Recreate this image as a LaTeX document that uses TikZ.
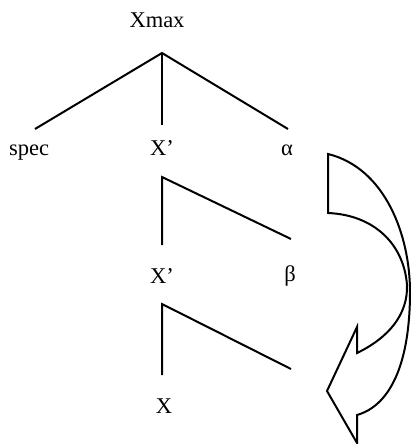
\documentclass[tikz,border=0pt]{standalone}
\usepackage{fontspec}
\setmainfont{Liberation Serif}
\begin{document}
\begin{tikzpicture}[x=1pt,y=-1pt,
  lbl/.style={anchor=base,inner sep=0pt,font=\fontsize{22.5}{26}\selectfont},
  branch/.style={line width=2pt},
  arrowshape/.style={line width=2pt,line join=miter}]
\useasboundingbox (0,0) rectangle (411,444);
% labels
\node[lbl] (xmax) at (157,28) {Xmax};
\node[lbl] (spec) at (29,155) {spec};
\node[lbl] (xb1) at (162,155) {X’};
\node[lbl] (alpha) at (287,155) {α};
\node[lbl] (xb2) at (162,283) {X’};
\node[lbl] (beta) at (290,281) {β};
\node[lbl] (x) at (164,413) {X};
% tree coordinates
\coordinate (top) at (162,53);
\coordinate (tl) at (35,129);
\coordinate (tm) at (162,125);
\coordinate (tr) at (288,129);
\coordinate (m) at (162,177);
\coordinate (mb) at (162,245);
\coordinate (mr) at (291,239);
\coordinate (b) at (162,304);
\coordinate (bb) at (162,375);
\coordinate (br) at (291,369);
\draw[branch] (tl) -- (top) -- (tr);
\draw[branch] (top) -- (tm);
\draw[branch] (mb) -- (m) -- (mr);
\draw[branch] (bb) -- (b) -- (br);
% curved arrow
\coordinate (a1) at (328,154);
\coordinate (a2) at (357,415);
\coordinate (a3) at (357,443);
\coordinate (a4) at (327,391);
\coordinate (a5) at (357,327);
\coordinate (a6) at (357,353);
\coordinate (a7) at (328,213);
\draw[arrowshape] (a1) .. controls (385,168) and (410,235) .. (410,292)
  .. controls (410,360) and (392,405) .. (a2)
  -- (a3) -- (a4) -- (a5) -- (a6)
  .. controls (388,338) and (408,315) .. (407,285)
  .. controls (404,245) and (375,215) .. (a7) -- cycle;
\end{tikzpicture}
\end{document}
